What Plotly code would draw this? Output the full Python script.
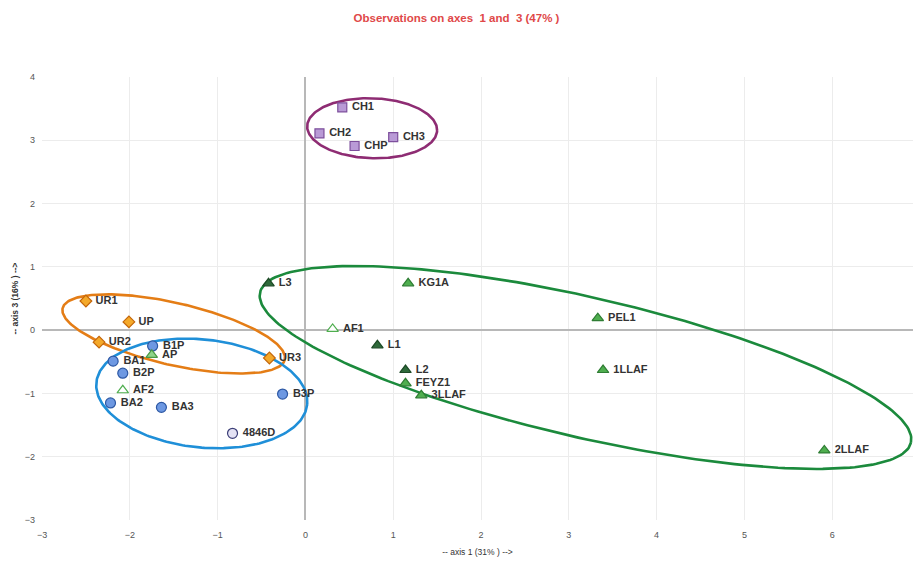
import numpy as np
import plotly.graph_objects as go

# ---- observation coordinates on axes 1 and 3 ----
ch_names = ["CH1", "CH2", "CHP", "CH3"]
ch_x = [0.42, 0.16, 0.56, 1.00]
ch_y = [3.52, 3.11, 2.91, 3.05]

ur_names = ["UR1", "UP", "UR2", "UR3"]
ur_x = [-2.50, -2.01, -2.35, -0.41]
ur_y = [0.46, 0.13, -0.19, -0.44]

ba_names = ["B1P", "BA1", "B2P", "BA2", "BA3", "B3P"]
ba_x = [-1.74, -2.19, -2.08, -2.22, -1.64, -0.26]
ba_y = [-0.25, -0.49, -0.68, -1.15, -1.22, -1.01]

pale_names = ["4846D"]
pale_x = [-0.83]
pale_y = [-1.63]

green_names = ["KG1A", "FEYZ1", "3LLAF", "PEL1", "1LLAF", "2LLAF"]
green_x = [1.17, 1.14, 1.32, 3.33, 3.39, 5.91]
green_y = [0.74, -0.84, -1.03, 0.19, -0.63, -1.90]

dark_names = ["L3", "L1", "L2"]
dark_x = [-0.42, 0.82, 1.14]
dark_y = [0.74, -0.24, -0.63]

hollow_names = ["AF1", "AF2"]
hollow_x = [0.31, -2.08]
hollow_y = [0.02, -0.95]

light_names = ["AP"]
light_x = [-1.75]
light_y = [-0.39]

# ---- group ellipses: centre (data), semi-axes (px), tilt (deg, screen) ----
ell_cx = [0.76, -1.50, -1.18, 3.19]
ell_cy = [3.19, -0.06, -1.0, -0.59]
ell_a = [65, 114, 106, 334]
ell_b = [30, 31, 54, 70]
ell_ang = [-2, -13, -6, -13]
ell_col = ["#8e2c73", "#e47d16", "#1f8fd8", "#1b8a3c"]

# ---- layout ----
W, H = 913, 561
ML, MR, MT, MB = 42, 0, 77, 41
XR = [-3, 6.92]
YR = [-3, 4]
SX = (W - ML - MR) / (XR[1] - XR[0])
SY = (H - MT - MB) / (YR[1] - YR[0])

fig = go.Figure()

t = np.linspace(0, 2 * np.pi, 241)
for cx, cy, a, b, ang, col in zip(ell_cx, ell_cy, ell_a, ell_b, ell_ang, ell_col):
    th = np.radians(ang)
    px = a * np.cos(t) * np.cos(th) - b * np.sin(t) * np.sin(th)
    py = a * np.cos(t) * np.sin(th) + b * np.sin(t) * np.cos(th)
    fig.add_trace(go.Scatter(x=cx + px / SX, y=cy + py / SY, mode="lines",
                             line=dict(color=col, width=2.6), hoverinfo="skip"))

lab_font = dict(family="Liberation Sans, Arial", size=11, color="#333333")


def pts(xs, ys, names, symbol, fill, edge, size=9):
    fig.add_trace(go.Scatter(
        x=xs, y=ys, text=[" <b>" + n + "</b>" for n in names], mode="markers+text",
        textposition="middle right", textfont=lab_font,
        marker=dict(symbol=symbol, size=size, color=fill,
                    line=dict(color=edge, width=1.2)),
    ))


pts(ch_x, ch_y, ch_names, "square", "#b99ad6", "#7d4f9c", 9)
pts(ur_x, ur_y, ur_names, "diamond", "#f4a92a", "#c4660a", 9)
pts(ba_x, ba_y, ba_names, "circle", "#6d98e2", "#2d58a4", 10)
pts(pale_x, pale_y, pale_names, "circle", "#e4e2f4", "#3c3f78", 10)
pts(green_x, green_y, green_names, "triangle-up", "#4fae4f", "#2f7d34", 10)
pts(dark_x, dark_y, dark_names, "triangle-up", "#2e6a3a", "#1d4a26", 10)
pts(hollow_x, hollow_y, hollow_names, "triangle-up", "#ffffff", "#4fae4f", 10)
pts(light_x, light_y, light_names, "triangle-up", "#8fd48a", "#4a9a46", 10)

axis_common = dict(
    showgrid=True, gridcolor="#ececec", gridwidth=1,
    zeroline=True, zerolinecolor="#b8b8b8", zerolinewidth=1.5,
    showline=False, ticks="", dtick=1,
    tickfont=dict(family="Liberation Sans, Arial", size=9, color="#555555"),
)

fig.update_layout(
    width=W, height=H,
    margin=dict(l=ML, r=MR, t=MT, b=MB),
    paper_bgcolor="white", plot_bgcolor="white",
    showlegend=False,
    title=dict(text="<b>Observations on axes  1 and  3 (47% )</b>",
               x=0.5, xanchor="center", y=0.968, yanchor="middle",
               font=dict(family="Liberation Sans, Arial", size=11.5, color="#e04848")),
    xaxis=dict(range=XR, tick0=-3, ticklabelstandoff=8, **axis_common,
               title=dict(text="-- axis 1 (31% ) -->", standoff=10,
                          font=dict(family="Liberation Sans, Arial", size=8.5, color="#333333"))),
    yaxis=dict(range=YR, tick0=-3, ticklabelstandoff=6, **axis_common,
               title=dict(text="<b>-- axis 3 (16% ) --></b>", standoff=4,
                          font=dict(family="Liberation Sans, Arial", size=8.5, color="#333333"))),
)

fig.write_html("out.html")
